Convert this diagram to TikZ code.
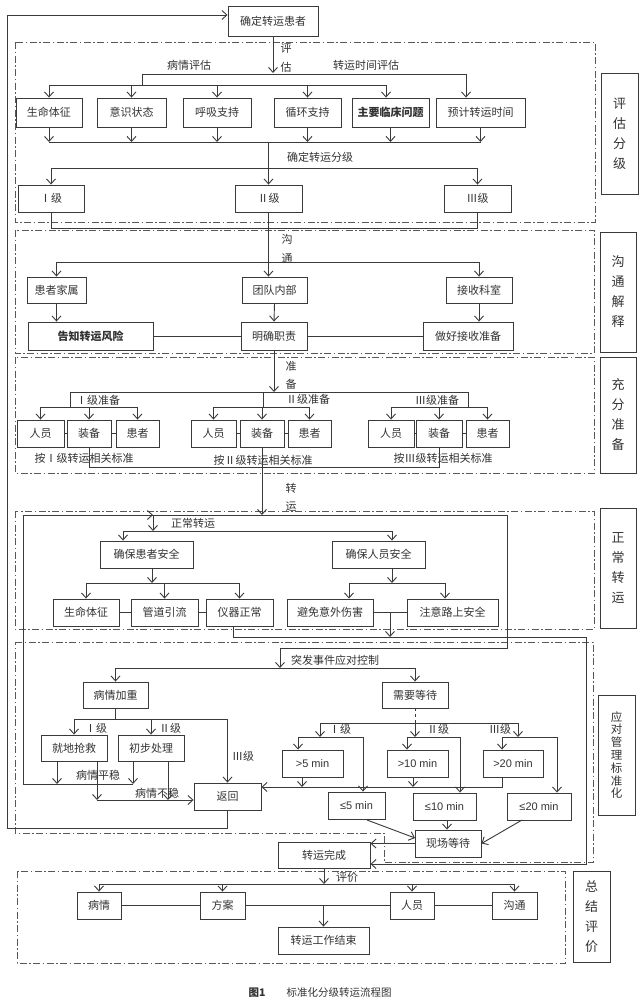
\documentclass[tikz,border=0pt]{standalone}
\usepackage{fontspec}
\setmainfont{Noto Sans CJK SC}
\newfontfamily\latf{Liberation Sans}
\usetikzlibrary{arrows.meta}
\definecolor{lc}{HTML}{3A3A3A}
\definecolor{tc}{HTML}{333333}
\tikzset{
 box/.style={draw=lc, line width=0.9pt, text=tc, inner sep=1pt, font=\fontsize{11}{12}\selectfont},
 ln/.style={draw=lc, line width=0.9pt},
 arr/.style={ln, -{Straight Barb[length=5pt,width=9pt]}},
 frm/.style={draw=lc!85, line width=0.8pt, dash pattern=on 7pt off 2.5pt on 1.5pt off 2.5pt},
 lbl/.style={text=tc, inner sep=0pt, font=\fontsize{11}{12}\selectfont},
 vlbl/.style={align=center, font=\fontsize{13}{20}\selectfont},
 bld/.style={font=\bfseries\fontsize{11}{12}\selectfont},
 mn/.style={font=\latf\fontsize{11}{12}\selectfont},
}
\newcommand\Bx[7][]{%
 \pgfmathsetmacro\bxcx{(#3+#5)/2}%
 \pgfmathsetmacro\bxcy{(#4+#6)/2}%
 \pgfmathsetmacro\bxw{#5-#3}%
 \pgfmathsetmacro\bxh{#6-#4}%
 \node[box,minimum width=\bxw pt,minimum height=\bxh pt,#1] (#2) at (\bxcx,\bxcy) {#7};}
\begin{document}
\begin{tikzpicture}[x=1pt,y=-1pt]
\fill[white] (0,0) rectangle (640,1001);
\useasboundingbox (0,0) rectangle (640,1001);

% ---------- frames and side labels ----------
\draw[frm] (15,42) rectangle (595,222);
\draw[frm] (15,230) rectangle (594,353);
\draw[frm] (15,357) rectangle (594,473);
\draw[frm] (15,511) rectangle (594,629);
\draw[frm] (15,642) -- (593,642) -- (593,862) -- (384,862) -- (384,833) -- (15,833) -- cycle;
\draw[frm] (17,871) rectangle (565,963);
\Bx[vlbl]{L1}{601}{73}{638}{194}{评\\估\\分\\级}
\Bx[vlbl]{L2}{600}{232}{636}{352}{沟\\通\\解\\释}
\Bx[vlbl]{L3}{600}{357}{636}{473}{充\\分\\准\\备}
\Bx[vlbl]{L4}{600}{508}{636}{628}{正\\常\\转\\运}
\Bx[vlbl,font=\fontsize{11.5}{12.8}\selectfont]{L5}{598}{695}{635}{815}{应\\对\\管\\理\\标\\准\\化}
\Bx[vlbl]{L6}{573}{871}{610}{962}{总\\结\\评\\价}

% ---------- assessment ----------
\Bx{top}{228}{6}{318}{36}{确定转运患者}
\coordinate (a1) at (273,73);
\draw[arr] (top.south) -- (a1);
\node[lbl] (t1) at (286,48) {评};
\node[lbl] (t2) at (286,67) {估};
\node[lbl] (t3) at (189,65) {病情评估};
\node[lbl] (t4) at (366,65) {转运时间评估};
\coordinate (h1L) at (142,74); \coordinate (h1R) at (466,74);
\draw[ln] (h1L) -- (h1R);
\Bx{b1}{16}{98}{82}{127}{生命体征}
\Bx{b2}{97}{98}{166}{127}{意识状态}
\Bx{b3}{183}{98}{251}{127}{呼吸支持}
\Bx{b4}{274}{98}{341}{127}{循环支持}
\Bx[bld]{b5}{352}{98}{429}{127}{主要临床问题}
\Bx{b6}{436}{98}{525}{127}{预计转运时间}
\coordinate (h2L) at (49,85); \coordinate (h2R) at (386,85);
\draw[ln] (h1L) -- (h1L |- h2L);
\draw[ln] (h2L) -- (h2R);
\foreach \n in {b1,b2,b3,b4} \draw[arr] (\n.north |- h2L) -- (\n.north);
\draw[arr] (h2R) -- (h2R |- b5.north);
\draw[arr] (h1R) -- (h1R |- b6.north);
\coordinate (h3L) at (49,142); \coordinate (h3R) at (481,142);
\draw[ln] (h3L) -- (h3R);
\foreach \n in {b1,b2,b3,b4,b5,b6} \draw[arr] (\n.south) -- (\n.south |- h3L);
\Bx{lv1}{18}{185}{84}{212}{Ⅰ级}
\Bx{lv2}{235}{185}{302}{212}{Ⅱ级}
\Bx{lv3}{444}{185}{511}{212}{Ⅲ级}
\coordinate (h4) at (268.5,168);
\draw[arr] (h4 |- h3L) -- (lv2.north);
\draw[ln] (lv1.north |- h4) -- (lv3.north |- h4);
\draw[arr] (lv1.north |- h4) -- (lv1.north);
\draw[arr] (lv3.north |- h4) -- (lv3.north);
\node[lbl] (t5) at (320,157) {确定转运分级};

% ---------- communication ----------
\coordinate (h5) at (0,228);
\draw[ln] (lv1.south) -- (lv1.south |- h5) -- (lv3.south |- h5) -- (lv3.south);
\Bx{fam}{27}{277}{86}{303}{患者家属}
\Bx{tm}{242}{277}{307}{303}{团队内部}
\Bx{rec}{446}{277}{512}{303}{接收科室}
\Bx[bld]{risk}{28}{322}{153}{350}{告知转运风险}
\Bx{duty}{241}{322}{307}{350}{明确职责}
\Bx{prep}{423}{322}{513}{350}{做好接收准备}
\coordinate (h6) at (0,262);
\draw[arr] (lv2.south) -- (lv2.south |- tm.north);
\draw[ln] (fam.north |- h6) -- (rec.north |- h6);
\draw[arr] (fam.north |- h6) -- (fam.north);
\draw[arr] (rec.north |- h6) -- (rec.north);
\node[lbl] (t6) at (287,239) {沟};
\node[lbl] (t7) at (287,258) {通};
\draw[arr] (fam.south) -- (fam.south |- risk.north);
\draw[arr] (tm.south) -- (duty.north);
\draw[arr] (rec.south) -- (rec.south |- prep.north);
\draw[ln] (risk.east) -- (duty.west);
\draw[ln] (duty.east) -- (prep.west);

% ---------- preparation ----------
\coordinate (h7L) at (70,392); \coordinate (h7M) at (263,392); \coordinate (h7R) at (468,392);
\draw[arr] (duty.south) -- (duty.south |- h7L);
\draw[ln] (h7L) -- (h7R);
\node[lbl] (t8) at (291,366) {准};
\node[lbl] (t9) at (291,384) {备};
\Bx{p1a}{17}{420}{64}{447}{人员}
\Bx{p1b}{67}{420}{111}{447}{装备}
\Bx{p1c}{116}{420}{159}{447}{患者}
\Bx{p2a}{191}{420}{236}{447}{人员}
\Bx{p2b}{240}{420}{284}{447}{装备}
\Bx{p2c}{288}{420}{331}{447}{患者}
\Bx{p3a}{368}{420}{414}{447}{人员}
\Bx{p3b}{416}{420}{462}{447}{装备}
\Bx{p3c}{466}{420}{509}{447}{患者}
\coordinate (g) at (0,407);
\draw[ln] (h7L) -- (h7L |- g); \draw[ln] (h7M) -- (h7M |- g); \draw[ln] (h7R) -- (h7R |- g);
\draw[ln] (p1a.north |- g) -- (p1c.north |- g);
\draw[ln] (p2a.north |- g) -- (p2c.north |- g);
\draw[ln] (p3a.north |- g) -- (p3c.north |- g);
\foreach \n in {p1a,p1b,p1c,p2a,p2b,p2c,p3a,p3b,p3c} \draw[arr] (\n.north |- g) -- (\n.north);
\draw[ln] (p1a.east) -- (p1b.west); \draw[ln] (p1b.east) -- (p1c.west);
\draw[ln] (p2a.east) -- (p2b.west); \draw[ln] (p2b.east) -- (p2c.west);
\draw[ln] (p3a.east) -- (p3b.west); \draw[ln] (p3b.east) -- (p3c.west);
\node[lbl,fill=white,inner sep=0.5pt] (t10) at (98,400) {Ⅰ级准备};
\node[lbl,fill=white,inner sep=0.5pt] (t11) at (308,399) {Ⅱ级准备};
\node[lbl,fill=white,inner sep=0.5pt] (t12) at (437,400) {Ⅲ级准备};
\node[lbl] (t13) at (84,458) {按Ⅰ级转运相关标准};
\node[lbl] (t14) at (263,460) {按Ⅱ级转运相关标准};
\node[lbl] (t15) at (443,458) {按Ⅲ级转运相关标准};
\coordinate (h8) at (0,467);
\draw[ln] (p1b.south) -- (p1b.south |- h8) -- (p3b.south |- h8) -- (p3b.south);
\node[lbl] (t16) at (291,488) {转};
\node[lbl] (t17) at (291,507) {运};

% ---------- normal transport ----------
\coordinate (lp1) at (23,515); \coordinate (lp2) at (507,515); \coordinate (lp3) at (507,648);
\coordinate (lp4) at (280,648); \coordinate (lp5) at (23,784); \coordinate (lp6) at (133,784);
\coordinate (ns) at (153,515); \coordinate (h9) at (153,531);
\draw[arr] (p2b.south) -- (p2b.south |- lp1);
\draw[ln] (lp4) -- (lp3) -- (lp2) -- (lp1) -- (lp5) -- (lp6);
\coordinate (lpa) at (138,515);
\draw[arr] (lpa) -- (ns);
\draw[arr] (ns) -- (h9);
\node[lbl] (t18) at (193,523) {正常转运};
\coordinate (h10L) at (123,531); \coordinate (h10R) at (392,531);
\draw[ln] (h10L) -- (h10R);
\Bx{sp}{100}{541}{193}{568}{确保患者安全}
\Bx{ss}{332}{541}{425}{568}{确保人员安全}
\draw[arr] (h10L) -- (h10L |- sp.north);
\draw[arr] (h10R) -- (h10R |- ss.north);
\Bx{n1}{53}{599}{119}{626}{生命体征}
\Bx{n2}{131}{599}{198}{626}{管道引流}
\Bx{n3}{206}{599}{273}{626}{仪器正常}
\Bx{n4}{287}{599}{373}{626}{避免意外伤害}
\Bx{n5}{407}{599}{498}{626}{注意路上安全}
\coordinate (h11a) at (152,583); \coordinate (h11b) at (392,583);
\draw[arr] (h11a |- sp.south) -- (h11a);
\draw[arr] (h11b |- ss.south) -- (h11b);
\draw[ln] (n1.north |- h11a) -- (n3.north |- h11a);
\coordinate (c4) at (349,583); \coordinate (c5) at (445,583);
\draw[ln] (c4) -- (c5);
\foreach \n in {n1,n2,n3} \draw[arr] (\n.north |- h11a) -- (\n.north);
\draw[arr] (c4) -- (c4 |- n4.north);
\draw[arr] (c5) -- (c5 |- n5.north);
\draw[ln] (n1.east) -- (n2.west); \draw[ln] (n2.east) -- (n3.west);
\draw[ln] (n4.east) -- (n5.west);
\coordinate (q1) at (233,637); \coordinate (q2) at (586,637); \coordinate (q3) at (586,864);
\coordinate (q0) at (233,626); \coordinate (q4) at (390,612.5);
\draw[arr] (q4) -- (q4 |- q1);

% ---------- emergency ----------
\draw[arr] (lp4) -- (280,668);
\node[lbl,anchor=west] (t19) at (291,660) {突发事件应对控制};
\Bx{ill}{83}{682}{148}{708}{病情加重}
\Bx{wt}{382}{682}{448}{708}{需要等待}
\coordinate (h12) at (0,668);
\draw[ln] (ill.north |- h12) -- (wt.north |- h12);
\draw[arr] (ill.north |- h12) -- (ill.north);
\draw[arr] (wt.north |- h12) -- (wt.north);
\Bx{res}{41}{735}{107}{761}{就地抢救}
\Bx{pre}{118}{735}{184}{761}{初步处理}
\Bx{ret}{194}{783}{261}{810}{返回}
\coordinate (h13) at (0,719);
\draw[ln] (ill.south) -- (ill.south |- h13);
\draw[ln] (res.north |- h13) -- (ret.north |- h13);
\draw[arr] (res.north |- h13) -- (res.north);
\draw[arr] (pre.north |- h13) -- (pre.north);
\draw[arr] (ret.north |- h13) -- (ret.north);
\node[lbl] (t20) at (96,728) {Ⅰ级};
\node[lbl] (t21) at (170,728) {Ⅱ级};
\node[lbl] (t22) at (243,756) {Ⅲ级};
\coordinate (s1) at (57,784); \coordinate (s2) at (133,784);
\coordinate (s3) at (97,800); \coordinate (s4) at (168,800);
\draw[arr] (s1 |- res.south) -- (s1);
\draw[arr] (s2 |- pre.south) -- (s2);
\draw[arr] (s3 |- res.south) -- (s3);
\draw[arr] (s4 |- pre.south) -- (s4);
\draw[arr] (s3) -- (s3 -| ret.west);
\node[lbl] (t23) at (98,775) {病情平稳};
\node[lbl] (t24) at (157,793) {病情不稳};
% feedback to top
\coordinate (fb1) at (227.5,828); \coordinate (fb2) at (7,828); \coordinate (fb3) at (7,15);
\draw[arr] (ret.south) -- (fb1) -- (fb2) -- (fb3) -- (fb3 -| top.west);

% waiting
\coordinate (h14L) at (320,723); \coordinate (h14M) at (415,723); \coordinate (h14R) at (518,723);
\draw[ln,dashed] (wt.south) -- (h14M);
\draw[ln] (h14L) -- (h14R);
\coordinate (gg) at (0,737);
\draw[arr] (h14L) -- (h14L |- gg);
\draw[arr] (h14M) -- (h14M |- gg);
\draw[arr] (h14R) -- (h14R |- gg);
\node[lbl] (t25) at (340,729) {Ⅰ级};
\node[lbl] (t26) at (438,729) {Ⅱ级};
\node[lbl] (t27) at (500,729) {Ⅲ级};
\Bx[mn]{g5}{282}{750}{343}{777}{>5 min}
\Bx[mn]{g10}{387}{750}{448}{777}{>10 min}
\Bx[mn]{g20}{483}{750}{543}{777}{>20 min}
\Bx[mn]{l5}{328}{792}{385}{819}{≤5 min}
\Bx[mn]{l10}{413}{793}{476}{820}{≤10 min}
\Bx[mn]{l20}{507}{793}{571}{820}{≤20 min}
\coordinate (k1a) at (298,737); \coordinate (k1b) at (363,737);
\coordinate (k2a) at (407,737); \coordinate (k2b) at (460,737);
\coordinate (k3a) at (502,737); \coordinate (k3b) at (557,737);
\draw[ln] (k1a) -- (k1b); \draw[ln] (k2a) -- (k2b); \draw[ln] (k3a) -- (k3b);
\draw[arr] (k1a) -- (k1a |- g5.north);
\draw[arr] (k1b) -- (k1b |- l5.north);
\draw[arr] (k2a) -- (k2a |- g10.north);
\draw[arr] (k2b) -- (k2b |- l10.north);
\draw[arr] (k3a) -- (k3a |- g20.north);
\draw[arr] (k3b) -- (k3b |- l20.north);
\coordinate (m0) at (502,787); \coordinate (m1) at (302,787); \coordinate (m2) at (413,787);
\draw[arr] (m0 |- g20.south) -- (m0) -- (m0 -| ret.east);
\draw[arr] (m1 |- g5.south) -- (m1);
\draw[arr] (m2 |- g10.south) -- (m2);
\Bx{ws}{415}{830}{481}{857}{现场等待}
\Bx{fin}{278}{842}{370}{868}{转运完成}
\coordinate (w1) at (367,820); \coordinate (w2) at (522,820); \coordinate (w3) at (447,820);
\coordinate (w4) at (415,838);
\draw[arr] (w1) -- (w4);
\draw[arr] (w3) -- (w3 |- ws.north);
\draw[arr] (w2) -- (ws.east);
\draw[arr] (ws.west) -- (ws.west -| fin.east);
% normal completion path
\draw[arr] (q0) -- (q1) -- (q2) -- (q3) -- (q3 -| fin.east);

% ---------- summary ----------
\coordinate (h15) at (0,884);
\Bx{e1}{77}{892}{121}{919}{病情}
\Bx{e2}{200}{892}{245}{919}{方案}
\Bx{e3}{390}{892}{434}{919}{人员}
\Bx{e4}{492}{892}{537}{919}{沟通}
\Bx{end}{278}{927}{369}{954}{转运工作结束}
\draw[arr] (fin.south) -- (fin.south |- h15);
\node[lbl] (t28) at (347,877) {评价};
\draw[ln] (e1.north |- h15) -- (e4.north |- h15);
\foreach \n in {e1,e2,e3,e4} \draw[arr] (\n.north |- h15) -- (\n.north);
\draw[ln] (e1.east) -- (e2.west); \draw[ln] (e2.east) -- (e3.west); \draw[ln] (e3.east) -- (e4.west);
\draw[arr] (end.north |- e2.east) -- (end.north);

% caption
\node[lbl,font=\bfseries\fontsize{10.5}{12}\selectfont] (cap1) at (257,993) {图1};
\node[lbl,font=\fontsize{10.5}{12}\selectfont] (cap2) at (339,993) {标准化分级转运流程图};
\end{tikzpicture}
\end{document}
